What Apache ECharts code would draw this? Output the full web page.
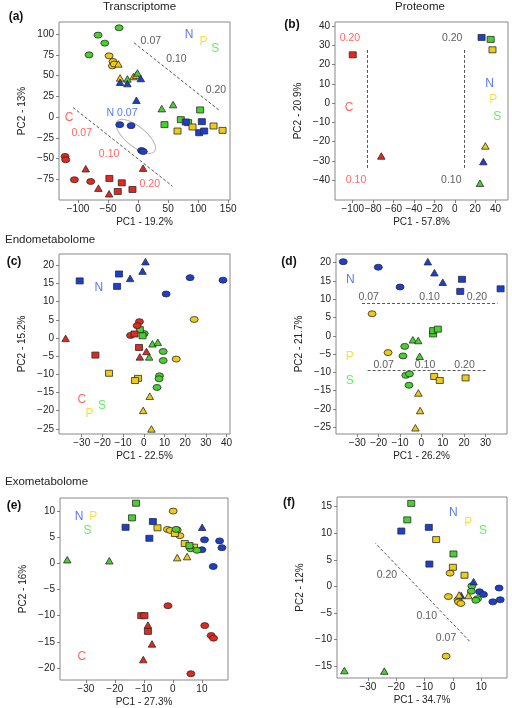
<!DOCTYPE html>
<html><head><meta charset="utf-8">
<script src="https://cdn.jsdelivr.net/npm/echarts@6/dist/echarts.min.js"></script>
<style>html,body{margin:0;padding:0;background:#fff}#c{width:512px;height:708px}</style>
</head><body><div id="c"></div>
<script>
// ---------- Data ----------
// Panel (a) Transcriptome
const a_C_circle = [[-121.7,-47.5],[-120.5,-51.5],[-106.1,-75.6],[-78.9,-77.7]];
const a_C_triangle = [[-87.2,-62.3],[-66.1,-85.7],[-48.3,-92.5],[8.3,-61.6]];
const a_C_square = [[-47.8,-74],[-33.9,-89.7],[-27.2,-79.3],[-9.4,-87.3]];
const a_N_circle = [[-30.5,-9.2],[-11.7,-10.4],[5.8,-40.4],[8.6,-41.6]];
const a_N_triangle = [[-30,41.9],[-17.8,40.3],[4.5,46.4],[-2.8,20.2]];
const a_N_square = [[79.4,-6],[106.1,-5.6],[101.7,-18.9],[110,-16.9]];
const a_P_circle = [[-48.3,73.7],[-41.7,66.9],[-42.8,61.6],[-39.6,63.8]];
const a_P_triangle = [[-32.8,64],[-30,47.1],[-7.8,48.8],[-3.5,50.5]];
const a_P_square = [[90.6,-12],[65.6,-16.9],[125.6,-10.8],[140.6,-16.1]];
const a_S_circle = [[-31.7,107.5],[-66.7,98.7],[-55.5,89],[-81.7,74.9]];
const a_S_triangle = [[-17.8,45.9],[-1.1,53.1],[39.4,10.1],[58.3,15]];
const a_S_square = [[103.3,8.5],[43.9,-9.2],[71.1,-3.2],[83.3,-6.8]];
// Panel (b) Proteome
const b_C_square = [[-100,25]];
const b_C_triangle = [[-72,-27.4]];
const b_N_square = [[26.3,34]];
const b_N_triangle = [[28,-30.3]];
const b_P_square = [[37,27.6]];
const b_P_triangle = [[30,-22.2]];
const b_S_square = [[35.2,33]];
const b_S_triangle = [[24.7,-41.5]];
// Panel (c) Endometabolome
const c_C_circle = [[-2.1,4.5],[-3.2,3.4],[-6.4,0.7]];
const c_C_square = [[-4.5,1.1],[-2.3,-2.6],[-23.4,-4.7]];
const c_C_triangle = [[-37.8,-0.1],[-1.9,-5.2],[1.3,-3.7]];
const c_N_circle = [[10.8,12.1],[22.4,16.6],[38.3,15.9]];
const c_N_triangle = [[-6.6,16.4],[-0.6,18.4],[0.8,21]];
const c_N_square = [[-31,15.7],[-12,17.6],[-12.9,14.2]];
const c_P_circle = [[24.4,5.1],[15.7,-5.8]];
const c_P_triangle = [[2.9,-16],[-0.3,-19.9],[3.7,-25]];
const c_P_square = [[-16.8,-9.7],[-2.8,-11.1],[-4.2,-11.7]];
const c_S_circle = [[0.2,1.2],[9.4,-3.7],[9.4,-6.2],[7.6,-10.4],[7.4,-11.2],[6.4,-13.6]];
const c_S_triangle = [[4.2,-1.6],[6.8,-1.2],[2.6,-5.2]];
const c_S_square = [[-1.9,2.3],[-0.6,0.6]];
// Panel (d)
const d_N_circle = [[-36.6,20.2],[-20.2,18.7],[-10,13.3]];
const d_N_triangle = [[3,20.2],[6.1,17.2],[10,14.6]];
const d_N_square = [[19,15.4],[18.2,12.1],[37.1,12.8]];
const d_P_circle = [[-23.1,6],[-15.6,-4.6]];
const d_P_triangle = [[-1.4,-15.6],[-0.6,-20.4],[-2.8,-25.1]];
const d_P_square = [[6,-11.1],[8.6,-12.2],[20.7,-11.5]];
const d_S_circle = [[-7.8,-2.9],[-8.6,-5.5],[-7.3,-10.8],[-5.6,-10.4],[-5.8,-13.5]];
const d_S_triangle = [[-4,-1.1],[-1.5,-1.3],[-0.8,-5.6]];
const d_S_square = [[5.5,0.5],[5.5,1.4],[7.7,1.8]];
// Panel (e) Exometabolome
const e_C_circle = [[-1.7,-8.1],[11,-11.9],[13.2,-13.8],[14,-14.3],[6.2,-21.1]];
const e_C_triangle = [[-8.6,-11.8],[-7.2,-15.4],[-10.2,-18.4]];
const e_C_square = [[-10.9,-10],[-9.8,-10],[-8.6,-13]];
const e_N_circle = [[10.9,4.5],[16.1,4.3],[16.9,3],[10,2.6],[13.9,-0.6]];
const e_N_triangle = [[10.1,6.9]];
const e_N_square = [[-16.3,6.9],[-6.9,8],[-8.1,4.8]];
const e_P_circle = [[0.1,10],[-1.9,6.5],[-0.9,6.3],[1.5,6.4],[2.4,5.3]];
const e_P_triangle = [[1.5,1.1],[4.9,1.3]];
const e_P_square = [[-5.3,6.8],[0.7,5.7],[4.1,3.8],[7.3,3.1]];
const e_S_circle = [[1.1,6.5],[6.1,2.8],[8.3,2.5]];
const e_S_triangle = [[-36.4,0.7],[-21.9,0.5]];
const e_S_square = [[-12.7,11.5],[-14.1,8.7],[5.7,3.4]];
// Panel (f)
const f_N_circle = [[9.4,-1],[10.8,-1.5],[14.1,-2.9],[16.3,-0.3],[16.7,-2.5]];
const f_N_triangle = [[7.3,0.9],[2.9,-1.7]];
const f_N_square = [[-18.2,10.4],[-8.5,11.1],[-8.3,4.2]];
const f_P_circle = [[-1,2.5],[-1.6,-1.9],[-2.4,-13.1],[1.8,-2.5],[2,-2.9],[2.8,-3.2]];
const f_P_triangle = [[5.5,-1.7],[2.2,-1.6]];
const f_P_square = [[-5.9,8.8],[0,3.6],[4.1,2.1]];
const f_S_circle = [[6.7,0.1],[6.5,-0.9],[8.7,-2.3],[8.1,-2.6]];
const f_S_triangle = [[-38.3,-15.8],[-24.2,-15.9]];
const f_S_square = [[-14.7,15.6],[-16.1,12.5],[0.2,6.1]];

// Tick labels
const xTicks_a = [-100,-50,0,50,100,150];
const yTicks_a = [-75,-50,-25,0,25,50,75,100];
const xTicks_b = [-100,-80,-60,-40,-20,0,20,40];
const yTicks_b = [-40,-30,-20,-10,0,10,20,30,40];
const xTicks_c = [-30,-20,-10,0,10,20,30,40];
const yTicks_c = [-25,-20,-15,-10,-5,0,5,10,15,20];
const xTicks_d = [-30,-20,-10,0,10,20,30];
const yTicks_d = [-25,-20,-15,-10,-5,0,5,10,15,20];
const xTicks_e = [-30,-20,-10,0,10];
const yTicks_e = [-20,-15,-10,-5,0,5,10];
const xTicks_f = [-30,-20,-10,0,10];
const yTicks_f = [-15,-10,-5,0,5,10,15];

const xNames = ['PC1 - 19.2%','PC1 - 57.8%','PC1 - 22.5%','PC1 - 26.2%','PC1 - 27.3%','PC1 - 34.7%'];
const yNames = ['PC2 - 13%','PC2 - 20.9%','PC2 - 15.2%','PC2 - 21.7%','PC2 - 16%','PC2 - 12%'];
const panelTags = ['(a)','(b)','(c)','(d)','(e)','(f)'];
const sectionTitles = ['Transcriptome','Proteome','Endometabolome','Exometabolome'];

// Annotation texts (data coords) and arrows
const a_texts = [[-115,-0.7,'C','C'],[-93.8,-19.3,'0.07','C'],[-48.3,-45,'0.10','C'],[19.5,-80.4,'0.20','C'],
  [-26.7,4.8,'N 0.07','N'],[21.2,91.8,'0.07','K'],[63.8,69.3,'0.10','K'],[129.5,32.2,'0.20','K'],
  [85,99.5,'N','N'],[108.8,91,'P','P'],[128.3,82.6,'S','S']];
const a_arrows = [[[-108.3,11.4],[57.2,-83.3]],[[-6.7,89.4],[135,8.1]]];
const b_texts = [[-102.7,33.9,'0.20','C'],[-103.6,-2.5,'C','C'],[-96.8,-39.8,'0.10','C'],
  [-2.5,33.9,'0.20','K'],[-3.4,-39.8,'0.10','K'],[34.2,10,'N','N'],[37.8,2,'P','P'],[41.7,-7.3,'S','S']];
const b_arrows = [[[-85.3,-33.6],[-85.3,28.1]],[[9.6,-33.6],[9.6,28.1]]];
const c_texts = [[-21.7,13.7,'N','N'],[-30,-17,'C','C'],[-20.2,-18.5,'S','S'],[-26.2,-20.9,'P','P']];
const c_arrows = [];
const d_texts = [[-33.3,15.3,'N','N'],[-33.5,-5.6,'P','P'],[-33.5,-12.2,'S','S'],
  [-24.7,10.5,'0.07','K'],[3.8,10.5,'0.10','K'],[26,10.5,'0.20','K'],
  [-17.7,-8,'0.07','K'],[1.7,-8,'0.10','K'],[20.2,-8,'0.20','K']];
const d_arrows = [[[-27.8,8.9],[35.7,8.9]],[[-25.2,-9.3],[30.4,-9.3]]];
const e_texts = [[-32.3,9,'N','N'],[-27.4,9,'P','P'],[-29.4,6.3,'S','S'],[-31.4,-17.8,'C','C']];
const e_arrows = [];
const f_texts = [[0.2,13.8,'N','N'],[5.4,12,'P','P'],[10.6,10.5,'S','S'],
  [-23.3,2.1,'0.20','K'],[-9.2,-5.6,'0.10','K'],[-2.4,-9.7,'0.07','K']];
const f_arrows = [[[5.9,-10.3],[-27.3,8.1]]];
const a_ellipse = [[-3.8,-23.3]];

// ---------- Styling / layout ----------
const FILL = {C:'#e5271d', N:'#1b3fd3', P:'#f0cb16', S:'#46d22c'};
const TXT = {C:'#ff3d3d', N:'#2f55f2', P:'#f5da0c', S:'#3fe83a', K:'#333333'};
const SYM = {circle:['circle',[8,6]], square:['rect',[7,6]], triangle:['triangle',[7.5,6.5]]};
const FONT = 'Liberation Sans, Arial, Helvetica, sans-serif';

const grids = [
  {left:59, top:22, width:171, height:178},
  {left:335, top:22, width:173, height:178},
  {left:59, top:254, width:171, height:180},
  {left:336, top:254, width:171, height:180},
  {left:60, top:498, width:168, height:182},
  {left:337, top:497, width:170, height:181}
];
const ranges = [
  [[-131.7,153],[-100,114.5]],
  [[-117.4,52.2],[-50.2,42]],
  [[-41,41.7],[-26.4,23.1]],
  [[-40,40.1],[-26.8,22.3]],
  [[-38.9,19],[-22.3,12.5]],
  [[-40.9,19.1],[-17.2,16.8]]
];
const xTicks = [xTicks_a,xTicks_b,xTicks_c,xTicks_d,xTicks_e,xTicks_f];
const yTicks = [yTicks_a,yTicks_b,yTicks_c,yTicks_d,yTicks_e,yTicks_f];

const pointSets = [
  [0,'C','circle',a_C_circle],[0,'C','triangle',a_C_triangle],[0,'C','square',a_C_square],
  [0,'P','circle',a_P_circle],[0,'S','circle',a_S_circle],
  [0,'P','triangle',a_P_triangle],[0,'S','triangle',a_S_triangle],[0,'N','triangle',a_N_triangle],
  [0,'N','circle',a_N_circle],[0,'S','square',a_S_square],[0,'N','square',a_N_square],[0,'P','square',a_P_square],
  [1,'C','square',b_C_square],[1,'C','triangle',b_C_triangle],[1,'N','square',b_N_square],[1,'N','triangle',b_N_triangle],
  [1,'P','square',b_P_square],[1,'P','triangle',b_P_triangle],[1,'S','square',b_S_square],[1,'S','triangle',b_S_triangle],
  [2,'N','circle',c_N_circle],[2,'N','triangle',c_N_triangle],[2,'N','square',c_N_square],
  [2,'P','circle',c_P_circle],[2,'P','triangle',c_P_triangle],[2,'P','square',c_P_square],
  [2,'S','circle',c_S_circle],[2,'S','triangle',c_S_triangle],[2,'S','square',c_S_square],
  [2,'C','circle',c_C_circle],[2,'C','square',c_C_square],[2,'C','triangle',c_C_triangle],
  [3,'N','circle',d_N_circle],[3,'N','triangle',d_N_triangle],[3,'N','square',d_N_square],
  [3,'P','circle',d_P_circle],[3,'P','triangle',d_P_triangle],[3,'P','square',d_P_square],
  [3,'S','circle',d_S_circle],[3,'S','triangle',d_S_triangle],[3,'S','square',d_S_square],
  [4,'C','circle',e_C_circle],[4,'C','triangle',e_C_triangle],[4,'C','square',e_C_square],
  [4,'N','circle',e_N_circle],[4,'N','triangle',e_N_triangle],[4,'N','square',e_N_square],
  [4,'P','circle',e_P_circle],[4,'P','triangle',e_P_triangle],[4,'P','square',e_P_square],
  [4,'S','circle',e_S_circle],[4,'S','triangle',e_S_triangle],[4,'S','square',e_S_square],
  [5,'N','circle',f_N_circle],[5,'P','circle',f_P_circle],[5,'S','circle',f_S_circle],
  [5,'N','triangle',f_N_triangle],[5,'P','triangle',f_P_triangle],[5,'S','triangle',f_S_triangle],
  [5,'N','square',f_N_square],[5,'P','square',f_P_square],[5,'S','square',f_S_square]
];
const textSets = [a_texts,b_texts,c_texts,d_texts,e_texts,f_texts];
const arrowSets = [a_arrows,b_arrows,c_arrows,d_arrows,e_arrows,f_arrows];

const fmt = v => String(v).replace('-', '\u2212');

const xAxis = grids.map((g,i)=>({
  gridIndex:i, type:'value', position:'bottom', min:ranges[i][0][0], max:ranges[i][0][1],
  axisLine:{show:false, onZero:false}, splitLine:{show:false},
  axisTick:{show:true, inside:false, customValues:xTicks[i], length:3, lineStyle:{color:'#666', width:0.8}},
  axisLabel:{customValues:xTicks[i], formatter:fmt, fontSize:10, color:'#222', margin:4, fontFamily:FONT},
  name:xNames[i], nameLocation:'middle', nameGap:17, nameTextStyle:{fontSize:10, color:'#222', fontFamily:FONT}
}));
const yAxis = grids.map((g,i)=>({
  gridIndex:i, type:'value', position:'left', min:ranges[i][1][0], max:ranges[i][1][1],
  axisLine:{show:false, onZero:false}, splitLine:{show:false},
  axisTick:{show:true, inside:false, customValues:yTicks[i], length:3, lineStyle:{color:'#666', width:0.8}},
  axisLabel:{customValues:yTicks[i], formatter:fmt, fontSize:10, color:'#222', margin:5, fontFamily:FONT},
  name:yNames[i], nameLocation:'middle', nameGap:32, nameTextStyle:{fontSize:10, color:'#222', fontFamily:FONT}
}));

const series = [];
pointSets.forEach(([p,g,shape,arr])=>{
  series.push({
    type:'scatter', xAxisIndex:p, yAxisIndex:p, data:arr,
    symbol:SYM[shape][0], symbolSize:SYM[shape][1],
    itemStyle:{color:FILL[g], borderColor:'#2a2a2a', borderWidth:0.8, opacity:1},
    silent:true, z:3
  });
});
textSets.forEach((arr,p)=>{
  series.push({
    type:'scatter', xAxisIndex:p, yAxisIndex:p, symbolSize:0, silent:true, z:4,
    data:arr.map(t=>({name:t[2], value:[t[0],t[1]],
      label:{color:TXT[t[3]], fontSize:(t[2].length===1?12:10.5)}})),
    label:{show:true, position:'inside', formatter:'{b}', fontFamily:FONT},
    markLine: arrowSets[p].length ? {
      silent:true, symbol:['none','arrow'], symbolSize:[0,6], animation:false,
      label:{show:false},
      lineStyle:{type:[3,2], color:'#444', width:0.9},
      data: arrowSets[p].map(a=>[{coord:a[0]},{coord:a[1]}])
    } : undefined
  });
});
series.push({
  type:'custom', xAxisIndex:0, yAxisIndex:0, data:a_ellipse, silent:true, z:2,
  renderItem:(params, api)=>{
    const c = api.coord([api.value(0), api.value(1)]);
    return {type:'ellipse', x:c[0], y:c[1], rotation:-0.68,
      shape:{cx:0, cy:0, rx:24, ry:10}, style:{fill:'none', stroke:'#b8b8b8', lineWidth:1}};
  }
});

const tagPos = [[16,17],[292,25],[14,262],[289,262],[14,506],[289,503]];
const graphic = [
  {type:'text', left:103, top:1, style:{text:sectionTitles[0], fill:'#222', font:'11.5px '+FONT}},
  {type:'text', left:395, top:1, style:{text:sectionTitles[1], fill:'#222', font:'11.5px '+FONT}},
  {type:'text', left:5, top:234, style:{text:sectionTitles[2], fill:'#222', font:'11.5px '+FONT}},
  {type:'text', left:5, top:476, style:{text:sectionTitles[3], fill:'#222', font:'11.5px '+FONT}}
].concat(panelTags.map((t,i)=>({type:'text', x:tagPos[i][0], y:tagPos[i][1],
  style:{text:t, font:'bold 12px '+FONT, fill:'#111', textAlign:'center', textVerticalAlign:'middle'}})));

const chart = echarts.init(document.getElementById('c'), null, {renderer:'canvas'});
chart.setOption({
  backgroundColor:'#fff', animation:false,
  textStyle:{fontFamily:FONT},
  grid: grids.map(g=>Object.assign({show:true, borderColor:'#888', borderWidth:1, containLabel:false}, g)),
  xAxis, yAxis, series, graphic
});
</script></body></html>
